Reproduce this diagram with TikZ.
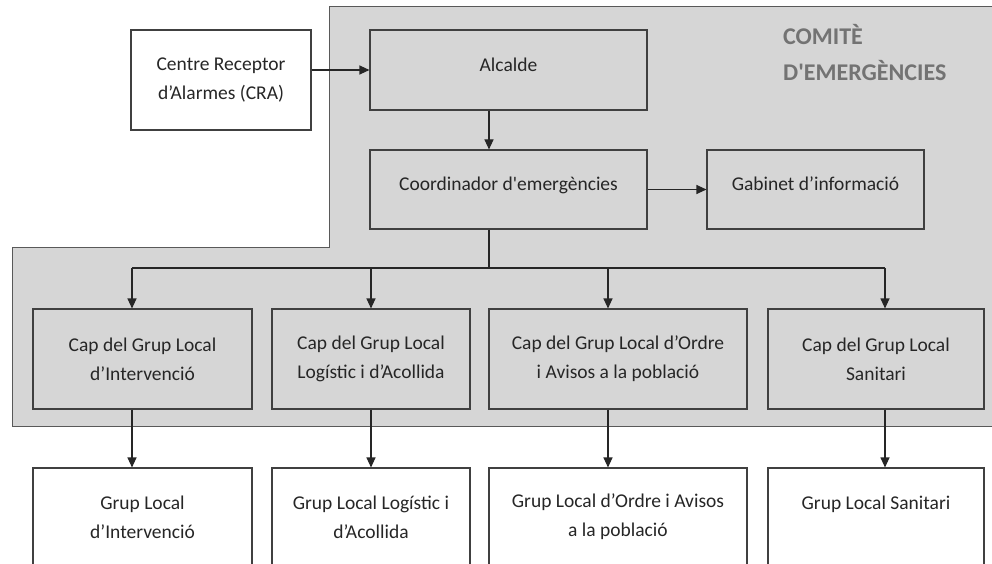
\documentclass[tikz,border=0pt]{standalone}
\usepackage{fontspec}
\setmainfont{Carlito}
\usetikzlibrary{arrows.meta}
\tikzset{
	caixa/.style={draw=black!75,line width=1.1pt,align=center,inner sep=0pt,
		font=\fontsize{19.5}{29}\selectfont,text=black!85},
	amunt/.style={text depth=#1},
	fletxa/.style={draw=black!85,line width=1.1pt,-{Triangle[length=10pt,width=9pt]}},
	linia/.style={draw=black!85,line width=1.1pt}
}

\begin{document}
\begin{tikzpicture}[x=1pt,y=-1pt]
	\useasboundingbox (0,0) rectangle (992,564);
	\clip (0,0) rectangle (992,564);
	\fill[white] (0,0) rectangle (992,564);
	\draw[draw=black!65,line width=1pt,fill=black!16] (12,247) -- (329,247) -- (329,7) -- (1000,7) -- (1000,426) -- (12,426) -- cycle;
	\node[anchor=north west,inner sep=0pt,align=left,text=black!55,
		font=\fontsize{24}{36}\selectfont\bfseries] (comite) at (783,24) {COMITÈ\\D\textquotesingle EMERGÈNCIES};

	\node[caixa,minimum width=180pt,minimum height=100pt] (cra) at (221,80) {Centre Receptor\\d’Alarmes (CRA)};
	\node[caixa,amunt=10pt,minimum width=277pt,minimum height=80pt] (alcalde) at (508.5,70) {Alcalde};
	\node[caixa,amunt=12pt,minimum width=277pt,minimum height=79pt] (coord) at (508.5,189.5) {Coordinador d\textquotesingle emergències};
	\node[caixa,amunt=12pt,minimum width=217pt,minimum height=79pt] (gabinet) at (815.5,189.5) {Gabinet d’informació};

	\node[caixa,minimum width=219pt,minimum height=100pt] (cap1) at (142.5,359) {Cap del Grup Local\\d’Intervenció};
	\node[caixa,minimum width=198pt,minimum height=100pt] (cap2) at (371,359) {Cap del Grup Local\\Logístic i d’Acollida};
	\node[caixa,minimum width=258pt,minimum height=100pt] (cap3) at (618,359) {Cap del Grup Local d’Ordre\\i Avisos a la població};
	\node[caixa,minimum width=216pt,minimum height=100pt] (cap4) at (876,359) {Cap del Grup Local\\Sanitari};

	\node[caixa,minimum width=219pt,minimum height=98pt] (grup1) at (142.5,517) {Grup Local\\d’Intervenció};
	\node[caixa,minimum width=198pt,minimum height=98pt] (grup2) at (371,517) {Grup Local Logístic i\\d’Acollida};
	\node[caixa,minimum width=258pt,minimum height=98pt] (grup3) at (618,517) {Grup Local d’Ordre i Avisos\\a la població};
	\node[caixa,minimum width=216pt,minimum height=98pt] (grup4) at (876,517) {Grup Local Sanitari\\\mbox{}};

	\coordinate (bus) at (489,268);
	\coordinate (b1) at (132,268);
	\coordinate (b2) at (371,268);
	\coordinate (b3) at (608,268);
	\coordinate (b4) at (885,268);

	\draw[fletxa] (cra.east |- alcalde) -- (alcalde.west);
	\draw[fletxa] (alcalde.south -| bus) -- (coord.north -| bus);
	\draw[fletxa] (coord.east) -- (gabinet.west);
	\draw[linia] (coord.south -| bus) -- (bus);
	\draw[linia] (b1) -- (b4);
	\foreach \i in {1,...,4} {
		\draw[fletxa] (b\i) -- (b\i |- cap\i.north);
		\draw[fletxa] (cap\i.south -| b\i) -- (b\i |- grup\i.north);
	}
\end{tikzpicture}
\end{document}
